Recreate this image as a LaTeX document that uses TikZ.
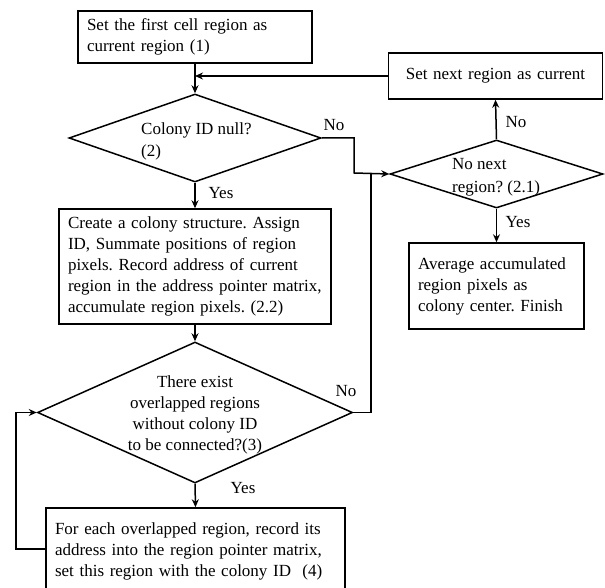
\documentclass[tikz,border=0pt]{standalone}
\usepackage{fontspec}
\setmainfont{Liberation Serif}
\usetikzlibrary{shapes.geometric,arrows.meta}
\frenchspacing
\begin{document}
\begin{tikzpicture}[x=1pt,y=-1pt,
  every node/.style={font=\fontsize{17}{21}\selectfont},
  box/.style={draw, line width=1.5pt, rectangle, align=left, inner ysep=0pt, inner xsep=9pt},
  dia/.style={draw, line width=1.5pt, diamond, inner sep=0pt},
  txt/.style={inner sep=0pt},
  conn/.style={line width=1.5pt},
  arr/.style={line width=1.5pt, -{Stealth[length=8pt,width=7pt]}}]
\useasboundingbox (0,0) rectangle (605,588);
\clip (0,0) rectangle (605,588);
% boxes
\node[box, minimum width=234pt, minimum height=52pt, text width=216pt] (b1) at (195,37)
  {Set the first cell region as\\current region (1)};
\node[box, minimum width=272pt, minimum height=115pt, text width=254pt] (b2) at (195,266.5)
  {Create a colony structure. Assign\\ID, Summate positions of region\\pixels. Record address of current\\region in the address pointer matrix,\\accumulate region pixels. (2.2)};
\node[box, align=center, minimum width=214pt, minimum height=46pt, text width=196pt] (b3) at (495.5,76)
  {Set next region as current};
\node[box, minimum width=175pt, minimum height=86pt, text width=157pt] (b5) at (496.5,286)
  {Average accumulated\\region pixels as\\colony center. Finish};
\node[box, minimum width=299pt, minimum height=86pt, text width=281pt] (b4) at (195.5,551)
  {For each overlapped region, record its\\address into the region pointer matrix,\\set this region with the colony ID\ \ (4)};
% diamonds
\node[dia, minimum width=252pt, minimum height=88pt] (d1) at (195,138) {};
\node[dia, minimum width=213pt, minimum height=68pt] (d2) at (496.5,174) {};
\node[dia, minimum width=315pt, minimum height=141pt] (d3) at (195,412.5) {};
\node[txt, anchor=west, align=left, font=\fontsize{17}{22}\selectfont] (t1) at (141,141) {Colony ID null?\\(2)};
\node[txt, anchor=west, align=left, font=\fontsize{17}{23}\selectfont] (t2) at (452,177) {No next\\region? (2.1)};
\node[txt, align=center] (t3) at (195,415) {There exist\\overlapped regions\\without colony ID\\to be connected?(3)};
% labels
\node[txt] (n1) at (334,125) {No};
\node[txt] (y1) at (221,193) {Yes};
\node[txt] (n2) at (516,122) {No};
\node[txt] (y2) at (518,222) {Yes};
\node[txt] (n3) at (346,391) {No};
\node[txt] (y3) at (243,488) {Yes};
% coordinates
\coordinate (j1) at (195,76);
\coordinate (c1) at (354,138);
\coordinate (c2) at (354,173);
\coordinate (c3) at (371,412.5);
\coordinate (c4) at (371,173);
\coordinate (c5) at (16,549);
\coordinate (c6) at (16,412.5);
% connectors
\draw[arr] (b1.south) -- (d1.north);
\draw[arr] (b3.west) -- (j1);
\draw[arr] (d1.east) -- (c1) -- (c2) -- (d2.west);
\draw[conn] (d3.east) -- (c3) -- (c4);
\draw[arr] (d2.north) -- (b3.south);
\draw[arr] (d2.south) -- (b5.north);
\draw[arr] (d1.south) -- (b2.north);
\draw[arr] (b2.south) -- (d3.north);
\draw[arr] (d3.south) -- (b4.north);
\draw[arr] (b4.west |- c5) -- (c5) -- (c6) -- (d3.west);
\end{tikzpicture}
\end{document}
